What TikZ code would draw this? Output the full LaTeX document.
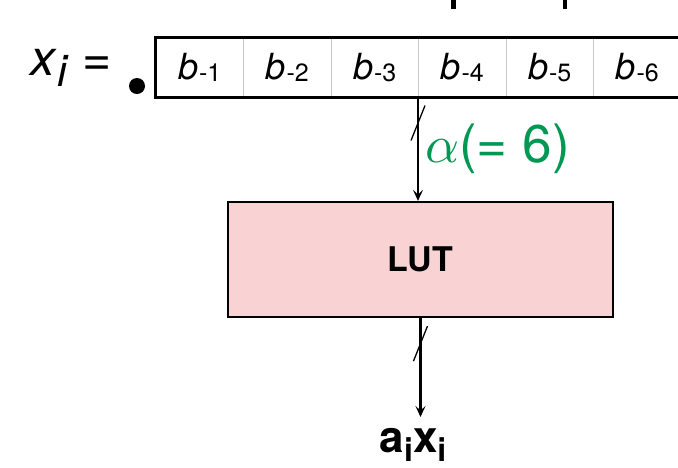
\documentclass[tikz,border=0pt]{standalone}
\usepackage{graphicx}
\usepackage{fontspec}
\setmainfont{TeX Gyre Heros}
\usetikzlibrary{arrows.meta,calc}
\definecolor{lutpink}{RGB}{249,211,211}
\definecolor{alphagreen}{RGB}{0,152,82}
\definecolor{cellgray}{RGB}{200,200,200}
\newcommand{\bitlab}[1]{{\fontsize{36}{38}\selectfont\textit{b}\kern1pt\raisebox{-2pt}{\fontsize{25}{27}\selectfont -#1}}}
\begin{document}
\begin{tikzpicture}[x=1pt,y=-1pt,
  cell/.style={draw=cellgray, line width=1pt, minimum width=87.5pt, minimum height=59pt, inner sep=0pt},
  frame/.style={draw=black, line width=2.2pt},
  flow/.style={draw=black, line width=2.2pt, -{Stealth[length=11pt,width=10pt,inset=4.5pt]}},
  tick/.style={draw=black, line width=1.3pt},
  bar/.style={fill=black}]
\useasboundingbox (0,0) rectangle (678,467);
% cut-off marks at the top
\fill[bar] (451,0) rectangle (456,9);
\fill[bar] (563,0) rectangle (567,9);
% x_i =
\node[anchor=base west, inner sep=0pt] (xi) at (30,75) {\fontsize{50}{54}\selectfont\itshape x\kern2pt\raisebox{-11pt}{\fontsize{44}{48}\selectfont i}\upshape\kern16pt=};
\node[circle, fill=black, inner sep=0pt, minimum size=16pt] (dot) at (137,86) {};
% register cells
\foreach \i in {1,...,6} {
  \node[cell] (c\i) at ({156+87.5*(\i-0.5)},67.5) {\bitlab{\i}};
}
\draw[frame] (c6.north east) -- (c1.north west) -- (c1.south west) -- (c6.south east);
% LUT
\node[frame, fill=lutpink, minimum width=385pt, minimum height=115pt, inner sep=0pt,
      font=\fontsize{34}{36}\selectfont\bfseries] (lut) at (420.5,259.5) {LUT};
% arrow register -> LUT
\draw[flow] (c4.south west) -- (c4.south west |- lut.north);
\coordinate (t1) at ($(c4.south west)+(0,25.5)$);
\draw[tick] ($(t1)+(-7,17.5)$) -- ($(t1)+(7,-17.5)$);
\node[anchor=base west, inner sep=0pt, text=alphagreen] (alpha) at (425,162)
  {\scalebox{5.3}{$\alpha$}\fontsize{53}{56}\selectfont(= 6)};
% arrow LUT -> output
\node[anchor=base, inner sep=0pt, font=\fontsize{44}{46}\selectfont\bfseries] (axi) at (413,452)
  {a\raisebox{-9pt}{\fontsize{32}{34}\selectfont i}x\raisebox{-9pt}{\fontsize{32}{34}\selectfont i}};
\coordinate (out) at (lut.south |- 0,417);
\draw[flow] (lut.south) -- (out);
\coordinate (t2) at ($(lut.south)+(0,25.5)$);
\draw[tick] ($(t2)+(-7,17.5)$) -- ($(t2)+(7,-17.5)$);
\end{tikzpicture}
\end{document}
